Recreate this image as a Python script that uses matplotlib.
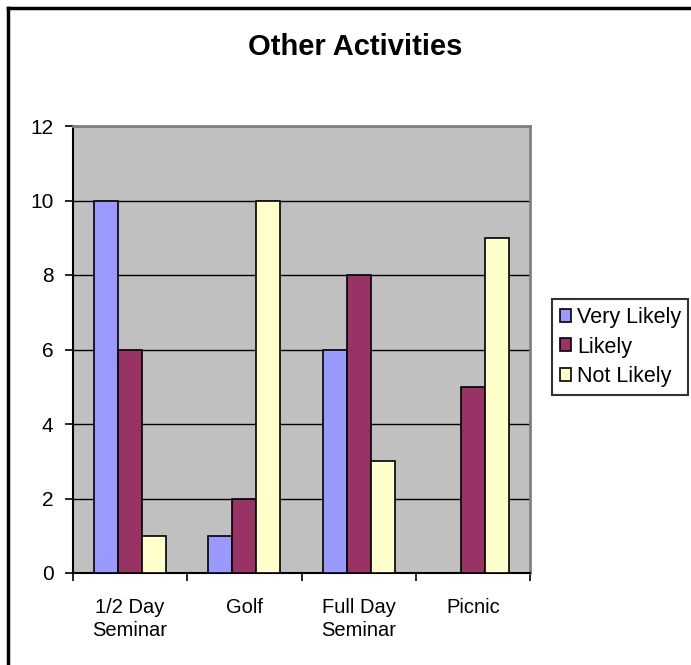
import matplotlib.pyplot as plt
import numpy as np

plt.rcParams['font.family'] = ['Liberation Sans', 'DejaVu Sans']

# chart data
categories = ['1/2 Day\nSeminar', 'Golf', 'Full Day\nSeminar', 'Picnic']
series_names = ['Very Likely', 'Likely', 'Not Likely']
very_likely = [10, 1, 6, 0]
likely = [6, 2, 8, 5]
not_likely = [1, 10, 3, 9]
colors = ['#9999FF', '#993366', '#FFFFCC']

fig = plt.figure(figsize=(6.91, 6.65), dpi=100)
ax = fig.add_axes([73/691, 92/665, 457/691, 447/665])
ax.set_facecolor('#C0C0C0')

x = np.arange(len(categories))
w = 0.21
for i, (vals, name) in enumerate(zip([very_likely, likely, not_likely], series_names)):
    ax.bar(x + (i - 1) * w, vals, w, color=colors[i], edgecolor='black',
           linewidth=1.2, label=name, zorder=3)

ax.set_xlim(-0.5, 3.5)
ax.set_ylim(0, 12)
ax.set_yticks(range(0, 13, 2))
ax.yaxis.grid(True, color='black', linewidth=1, zorder=1)
ax.set_axisbelow(True)

# category boundaries as ticks, labels in the middle
ax.set_xticks(np.arange(-0.5, 4, 1))
ax.set_xticklabels([])
ax.set_xticks(x, minor=True)
ax.set_xticklabels(categories, minor=True, fontsize=14.5, linespacing=1.25)
ax.tick_params(axis='x', which='minor', length=0, pad=18)
ax.tick_params(axis='x', which='major', length=6, width=1.2, direction='out')
ax.tick_params(axis='y', length=6, width=1.2, labelsize=15, pad=8)

for s in ['top', 'right']:
    ax.spines[s].set_color('#808080')
    ax.spines[s].set_linewidth(2)
ax.spines['left'].set_linewidth(1.5)
ax.spines['bottom'].set_linewidth(1.5)

fig.text(355/691, 1 - 47/665, 'Other Activities', fontsize=21,
         fontweight='bold', ha='center', va='center')

leg = ax.legend(loc='center left', bbox_to_anchor=(552/691, 1 - 347/665),
                bbox_transform=fig.transFigure, fontsize=15.5, frameon=True,
                fancybox=False, edgecolor='black', handlelength=0.55,
                handleheight=0.55, handletextpad=0.25, borderpad=0.35,
                labelspacing=0.4, borderaxespad=0)
leg.get_frame().set_linewidth(1.5)

# outer chart border (only top and left visible)
fig.add_artist(plt.Line2D([8/691, 8/691], [0, 1 - 8/665], color='black', linewidth=2.5))
fig.add_artist(plt.Line2D([8/691, 1], [1 - 8/665, 1 - 8/665], color='black', linewidth=2.5))

fig.savefig('out.png', dpi=100)
